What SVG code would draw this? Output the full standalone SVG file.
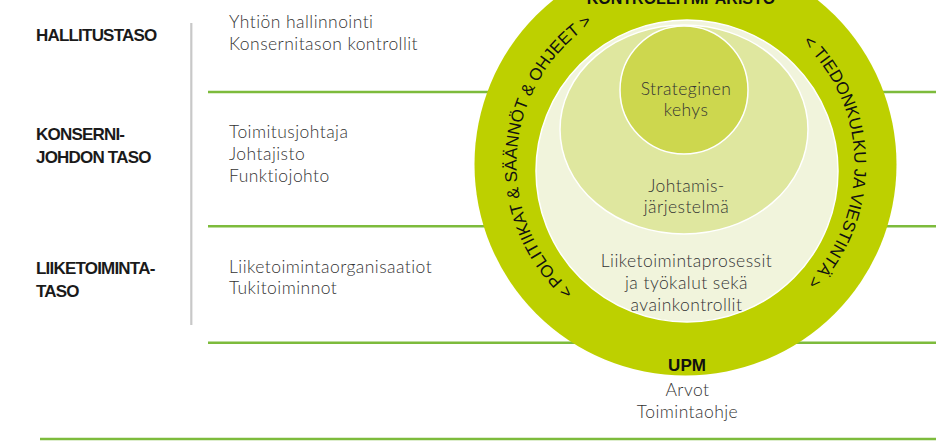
<svg xmlns="http://www.w3.org/2000/svg" xmlns:xlink="http://www.w3.org/1999/xlink" width="936" height="442" viewBox="0 0 936 442">
  <style>
    .lbl { font-family: "Liberation Sans", Arial, sans-serif; font-weight: bold; font-size: 17px; letter-spacing: -0.8px; fill: #1a1a1a; }
    .txt { font-family: "Lato", "Liberation Sans", Arial, sans-serif; font-weight: 300; font-size: 17.5px; letter-spacing: 0.45px; fill: #333333; }
    .ctr { text-anchor: middle; }
    .ring { font-family: "Liberation Sans", Arial, sans-serif; font-size: 17px; fill: #111; }
    .sep { stroke: #7dbb3c; stroke-width: 2.5; fill: none; }
    .inner { stroke: #ffffff; stroke-width: 1.5; }
  </style>
  <defs>
    <path id="leftArc" d="M 591.0 304.6 A 169 169 0 0 1 611.4 12.6"/>
    <path id="rightArc" d="M 767.4 16.7 A 169 169 0 0 1 772.5 309.4"/>
  </defs>
  <rect width="936" height="442" fill="#ffffff"/>

  <g id="connectors">
    <line class="sep" x1="208" y1="92" x2="936" y2="92"/>
    <line class="sep" x1="208" y1="226.3" x2="936" y2="226.3"/>
    <line class="sep" x1="208" y1="342.8" x2="936" y2="342.8"/>
    <line class="sep" x1="40" y1="439" x2="936" y2="439" stroke-width="3.5"/>
    <line x1="191.3" y1="23" x2="191.3" y2="325" stroke="#c8c8c8" stroke-width="2.2"/>
  </g>

  <g id="level-hallitus">
    <text class="lbl" x="36" y="41">HALLITUSTASO</text>
    <text class="txt" x="229" y="28">Yhtiön hallinnointi</text>
    <text class="txt" x="229" y="50">Konsernitason kontrollit</text>
  </g>

  <g id="level-konsernijohto">
    <text class="lbl" x="36" y="140">KONSERNI-</text>
    <text class="lbl" x="36" y="163">JOHDON TASO</text>
    <text class="txt" x="229" y="138">Toimitusjohtaja</text>
    <text class="txt" x="229" y="160">Johtajisto</text>
    <text class="txt" x="229" y="182">Funktiojohto</text>
  </g>

  <g id="level-liiketoiminta">
    <text class="lbl" x="36" y="274">LIIKETOIMINTA-</text>
    <text class="lbl" x="36" y="297">TASO</text>
    <text class="txt" x="229" y="273">Liiketoimintaorganisaatiot</text>
    <text class="txt" x="229" y="294">Tukitoiminnot</text>
  </g>

  <g id="kontrolliymparisto">
    <circle cx="685.5" cy="164.5" r="211" fill="#bdd000"/>
    <text x="681" y="3.5" text-anchor="middle" font-family="Liberation Sans, Arial, sans-serif" font-weight="bold" font-size="16" fill="#111">KONTROLLIYMPÄRISTÖ</text>
    <text class="ring"><textPath xlink:href="#leftArc" href="#leftArc" startOffset="50%" text-anchor="middle">&lt; POLITIIKAT &amp; SÄÄNNÖT &amp; OHJEET &gt;</textPath></text>
    <text class="ring" font-size="16.8"><textPath xlink:href="#rightArc" href="#rightArc" startOffset="50%" text-anchor="middle">&lt; TIEDONKULKU JA VIESTINTÄ &gt;</textPath></text>
    <text x="687" y="371" text-anchor="middle" font-family="Liberation Sans, Arial, sans-serif" font-weight="bold" font-size="17" fill="#111">UPM</text>
    <text class="txt ctr" x="687.5" y="396">Arvot</text>
    <text class="txt ctr" x="687.5" y="418">Toimintaohje</text>
  </g>

  <g id="liiketoimintaprosessit">
    <circle class="inner" cx="687" cy="171" r="151" fill="#f1f4dc"/>
    <text class="txt ctr" x="686.5" y="267">Liiketoimintaprosessit</text>
    <text class="txt ctr" x="686.5" y="289">ja työkalut sekä</text>
    <text class="txt ctr" x="686.5" y="311">avainkontrollit</text>
  </g>

  <g id="johtamisjarjestelma">
    <ellipse class="inner" cx="684" cy="129.5" rx="124" ry="104.5" fill="#dfe79f"/>
    <text class="txt ctr" x="686.5" y="192">Johtamis-</text>
    <text class="txt ctr" x="686.5" y="213">järjestelmä</text>
  </g>

  <g id="strateginen-kehys">
    <circle class="inner" cx="684" cy="90" r="64" fill="#cdd74e"/>
    <text class="txt ctr" x="686" y="95">Strateginen</text>
    <text class="txt ctr" x="686" y="116">kehys</text>
  </g>
</svg>
